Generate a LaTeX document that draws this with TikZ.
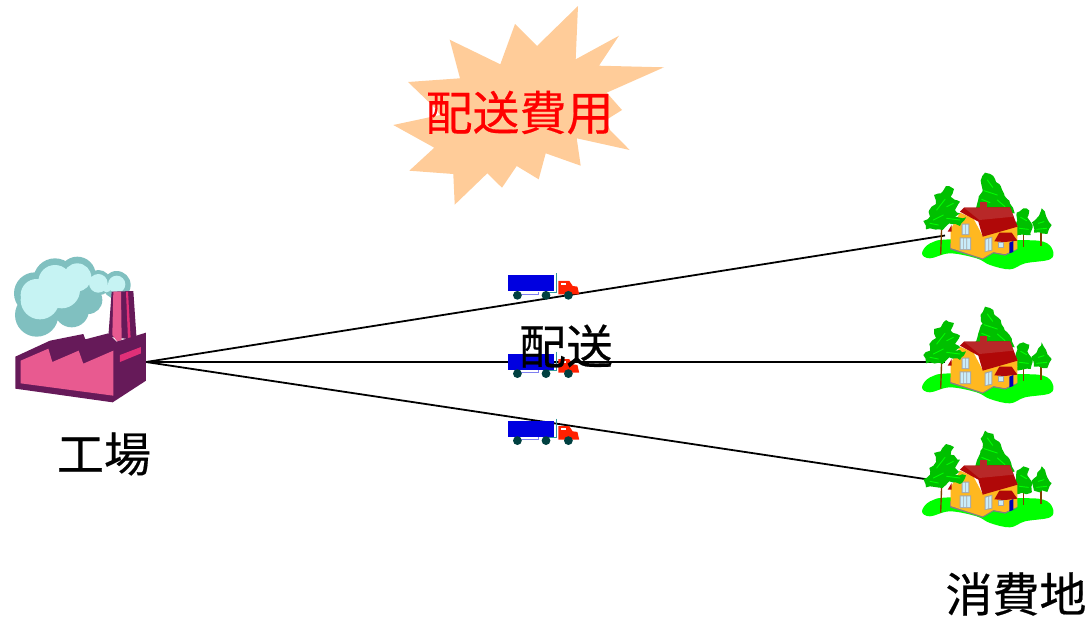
\documentclass[tikz,border=0pt]{standalone}
\usepackage{fontspec}
\usetikzlibrary{decorations.pathmorphing}
\newfontfamily\cjk[FakeBold=0.4]{Noto Sans CJK JP}
\definecolor{burst}{HTML}{FFCC99}
\definecolor{fdark}{HTML}{661A59}
\definecolor{fpink}{HTML}{E85A90}
\definecolor{fred}{HTML}{E03078}
\definecolor{cdark}{HTML}{80C0C0}
\definecolor{clight}{HTML}{C6F3F3}
\definecolor{tblue}{HTML}{0000E0}
\definecolor{tred}{HTML}{FF2000}
\definecolor{twheel}{HTML}{004040}
\definecolor{tteal}{HTML}{339999}
\definecolor{tpale}{HTML}{8080F0}
\definecolor{hgreen}{HTML}{00FF00}
\definecolor{tgreen}{HTML}{00C000}
\definecolor{troof}{HTML}{B00808}
\definecolor{troofl}{HTML}{B82828}
\definecolor{hwall}{HTML}{FFB820}
\definecolor{hglass}{HTML}{C8ECFA}
\definecolor{trunk}{HTML}{804000}
\tikzset{
 x=1pt,y=-1pt,
 label36/.style={font=\cjk\fontsize{47}{50}\selectfont,inner sep=0pt,text=black},
 link/.style={draw=black,line width=1.8pt},
 tree/.style={fill=tgreen,decorate,decoration={random steps,segment length=4pt,amplitude=1.2pt}},
 streak/.style={draw=hgreen,line width=.9pt,line cap=round},
 truckpic/.pic={
  \fill[tblue] (0,0) rectangle (46.3,16);
  \draw[tpale,line width=.7pt] (10,16.5) -- (10,18.8) -- (31,18.8) -- (31,16.5);
  \draw[tteal,line width=1pt] (49,-2) -- (49,17) -- (38,17);
  \fill[tred] (50.7,5.5) -- (61.5,5.5) -- (65,10.7) -- (69.7,11.3) -- (71.5,19) -- (50.7,19) -- cycle;
  \fill[white] (53,7.3) rectangle (58.5,9.3);
  \fill[twheel] (9.7,20) circle (4.4) (38.3,20) circle (4.4) (60.7,20) circle (4.4);
 },
 homepic/.pic={
  \begin{scope}[scale=1/3]
  \fill[hgreen] plot[smooth cycle,tension=.6] coordinates {(36,280)(60,250)(120,238)(320,240)(400,245)(428,270)(420,298)(345,310)(300,328)(240,315)(200,295)(120,280)(60,295)};
  % back tree
  \fill[tree] (225,38) -- (250,48) -- (258,66) -- (272,78) -- (284,108) -- (298,122) -- (314,160) -- (190,165) -- (205,118) -- (218,90) -- (212,62) -- cycle;
  \draw[streak] (232,60) -- (248,82) (222,92) -- (262,105) (215,118) -- (240,128) (262,120) -- (285,140);
  % right trees
  \draw[trunk,line width=1.2pt] (340,215) -- (340,262) (393,205) -- (393,258);
  \fill[tree] (320,158) -- (340,145) -- (358,152) -- (352,172) -- (368,195) -- (362,225) -- (320,228) -- (318,190) -- cycle;
  \fill[tree] (365,188) -- (380,175) -- (395,145) -- (408,168) -- (425,195) -- (412,222) -- (372,218) -- cycle;
  \draw[streak] (332,172) -- (350,182) (328,205) -- (355,208) (385,190) -- (402,185) (380,208) -- (410,205);
  % house
  \fill[gray] (120,268) -- (218,299) -- (250,280) -- (285,287) -- (322,269) -- (322,255) -- (120,250) -- cycle;
  \fill[hwall] (122,264) -- (122,208) -- (150,158) -- (190,175) -- (218,228) -- (322,196) -- (322,266) -- (285,282) -- (250,276) -- (218,295) -- cycle;
  \fill[troof] (150,155) -- (162,143) -- (300,142) -- (323,200) -- (218,230) -- (205,185) -- cycle;
  \fill[troofl] (162,143) -- (300,142) -- (311,170) -- (208,180) -- cycle;
  \fill[troofl] (210,126) rectangle (232,152);
  \fill[troof] (113,215) -- (125,195) -- (125,215) -- cycle;
  \fill[gray!70] (155,191) rectangle (178,225) (149,232) rectangle (183,270) (224,236) -- (247,230) -- (247,272) -- (224,276) -- cycle;
  \fill[hglass] (158,194) rectangle (175,222) (152,235) rectangle (180,267) (227,239) -- (244,234) -- (244,269) -- (227,273) -- cycle;
  \fill[gray!70] (165,192) rectangle (167,224) (159,234) rectangle (161,268) (169,234) rectangle (171,268) (235,234) rectangle (237,274);
  \fill[hwall] (255,243) -- (285,225) -- (320,240) -- (318,268) -- (285,282) -- (255,276) -- cycle;
  \fill[troof] (253,244) -- (268,218) -- (305,218) -- (322,242) -- (285,246) -- cycle;
  \fill[gray!70] (263,245) rectangle (282,264);
  \fill[hglass] (266,248) rectangle (279,261);
  \fill[blue!70!black] (298,248) -- (310,243) -- (310,276) -- (298,280) -- cycle;
  % left tree
  \draw[trunk,line width=1.4pt] (95,200) -- (92,284);
  \fill[tree] (40,183) -- (60,170) -- (58,150) -- (78,132) -- (72,105) -- (92,100) -- (108,78) -- (132,87) -- (122,110) -- (150,125) -- (135,150) -- (150,160) -- (135,170) -- (168,172) -- (150,198) -- (118,190) -- (98,210) -- (60,205) -- (48,208) -- cycle;
  \draw[streak] (80,150) -- (105,118) (70,180) -- (100,165) (110,140) -- (130,130) (110,175) -- (150,180) (60,190) -- (85,195);
  \end{scope}
 }
}
\begin{document}
\begin{tikzpicture}
\useasboundingbox (0,0) rectangle (1090,619);
% burst
\fill[burst] (578,6) -- (575.7,59.3) -- (619,35.7) -- (599,65.7) -- (664,67.3) -- (606.7,92.7) -- (622,110) -- (606,120) -- (610,130) -- (629.7,150) -- (576.7,138.3) -- (580.7,165.7) -- (545.7,153.3) -- (538.7,179.3) -- (516.7,166) -- (502,187.7) -- (487.3,173.3) -- (454.7,204.7) -- (453.3,174) -- (409.3,170.7) -- (434.3,147.7) -- (393.3,125) -- (440,115) -- (435,108) -- (408,82) -- (460,78.3) -- (449.7,39.7) -- (500.3,64.3) -- (515,24) -- (537,46) -- cycle;
\node[label36,text=red] (cost) at (519.5,112.5) {配送費用};
% anchors
\coordinate (plant) at (146,362);
\coordinate (siteA) at (945,235.5);
\coordinate (siteB) at (945,362);
\coordinate (siteC) at (945,482);
\draw[link] (plant) -- (siteA);
\draw[link] (plant) -- (siteB);
\draw[link] (plant) -- (siteC);
% factory
\begin{scope}[shift={(0,240)},scale=1/3]
 \fill[cdark] (110,225) circle (65) (215,210) circle (52) (265,180) circle (42) (105,160) circle (63) (165,120) circle (65) (232,105) circle (55) (295,128) circle (38) (350,135) circle (42);
 \fill[clight] (120,180) circle (58) (110,165) circle (48) (185,150) circle (55) (165,125) circle (50) (232,112) circle (42) (295,130) circle (28) (350,133) circle (26) (320,145) circle (12);
 \fill[fdark] (335,155) -- (400,153) -- (410,300) -- (325,290) -- cycle;
 \fill[fpink] (340,155) -- (363,155) -- (365,300) -- (352,305) -- (337,285) -- cycle;
 \fill[fred] (378,155) -- (384,155) -- (392,295) -- (384,298) -- cycle;
 \fill[fdark] (46,350) -- (150,302) -- (250,282) -- (256,298) -- (325,280) -- (350,305) -- (438,278) -- (438,422) -- (338,487) -- (46,446) -- cycle;
 \fill[fpink] (62,362) -- (145,326) -- (157,366) -- (236,332) -- (250,371) -- (340,332) -- (340,467) -- (62,430) -- cycle;
 \fill[fred] (360,345) -- (423,321) -- (423,340) -- (360,366) -- cycle;
\end{scope}
% trucks
\pic at (507.7,275.3) {truckpic};
\pic at (507.7,353.6) {truckpic};
\pic at (507.7,420.6) {truckpic};
% houses
\pic at (910,160) {homepic};
\pic at (910,294) {homepic};
\pic at (910,418) {homepic};
% labels
\node[label36] (work) at (104,454) {工場};
\node[label36] (ship) at (566,346) {配送};
\node[label36] (dest) at (1016,594) {消費地};
\end{tikzpicture}
\end{document}
